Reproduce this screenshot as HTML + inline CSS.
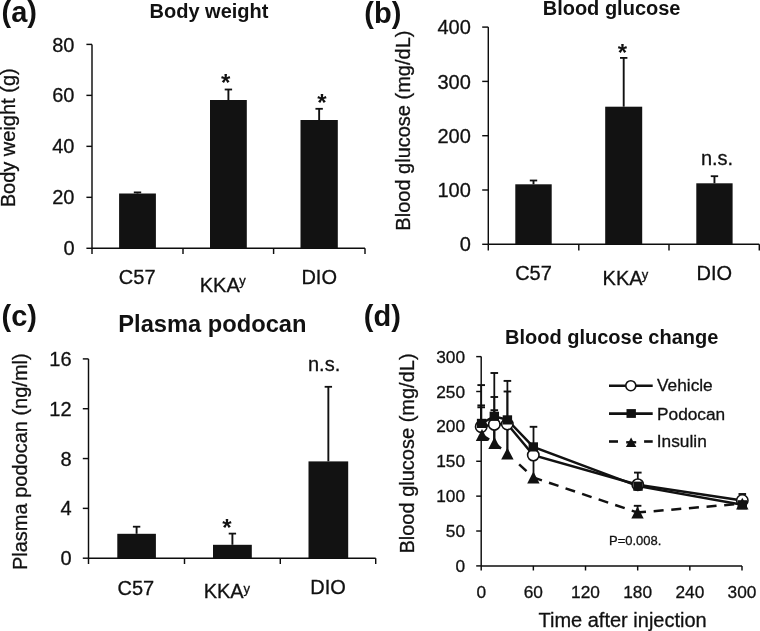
<!DOCTYPE html>
<html><head><meta charset="utf-8"><style>
html,body{margin:0;padding:0;background:#fff;}
svg{display:block;filter:grayscale(1);}
text{font-family:"Liberation Sans", sans-serif;}
text.r{stroke:#111;stroke-width:0.3px;}
</style></head><body>
<svg width="760" height="631" viewBox="0 0 760 631">
<rect width="760" height="631" fill="#fff"/>
<text x="1.5" y="22.4" font-size="29" text-anchor="start" font-weight="bold" fill="#111" >(a)</text>
<text x="209" y="17.9" font-size="20" text-anchor="middle" font-weight="bold" fill="#111" >Body weight</text>
<line x1="92" y1="44.4" x2="92" y2="248.3" stroke="#0d0d0d" stroke-width="1.45" />
<line x1="86.4" y1="44.4" x2="92" y2="44.4" stroke="#0d0d0d" stroke-width="1.45" />
<text x="74.5" y="51.5" font-size="20" text-anchor="end" class="r" fill="#111" >80</text>
<line x1="86.4" y1="95.375" x2="92" y2="95.375" stroke="#0d0d0d" stroke-width="1.45" />
<text x="74.5" y="102.475" font-size="20" text-anchor="end" class="r" fill="#111" >60</text>
<line x1="86.4" y1="146.35" x2="92" y2="146.35" stroke="#0d0d0d" stroke-width="1.45" />
<text x="74.5" y="153.45" font-size="20" text-anchor="end" class="r" fill="#111" >40</text>
<line x1="86.4" y1="197.32500000000002" x2="92" y2="197.32500000000002" stroke="#0d0d0d" stroke-width="1.45" />
<text x="74.5" y="204.425" font-size="20" text-anchor="end" class="r" fill="#111" >20</text>
<line x1="86.4" y1="248.3" x2="92" y2="248.3" stroke="#0d0d0d" stroke-width="1.45" />
<text x="74.5" y="255.4" font-size="20" text-anchor="end" class="r" fill="#111" >0</text>
<line x1="92" y1="248.3" x2="365" y2="248.3" stroke="#0d0d0d" stroke-width="1.45" />
<line x1="92" y1="248.3" x2="92" y2="254" stroke="#0d0d0d" stroke-width="1.45" />
<line x1="183" y1="248.3" x2="183" y2="254" stroke="#0d0d0d" stroke-width="1.45" />
<line x1="273.6" y1="248.3" x2="273.6" y2="254" stroke="#0d0d0d" stroke-width="1.45" />
<line x1="365" y1="248.3" x2="365" y2="254" stroke="#0d0d0d" stroke-width="1.45" />
<line x1="137.5" y1="192.4" x2="137.5" y2="193.5" stroke="#111" stroke-width="1.9" />
<line x1="133.8" y1="192.4" x2="141.2" y2="192.4" stroke="#111" stroke-width="1.8" />
<rect x="119.1" y="193.5" width="36.80" height="54.80" fill="#121212"/>
<line x1="228.4" y1="89.5" x2="228.4" y2="100" stroke="#111" stroke-width="1.9" />
<line x1="224.70000000000002" y1="89.5" x2="232.1" y2="89.5" stroke="#111" stroke-width="1.8" />
<rect x="210" y="100" width="36.80" height="148.30" fill="#121212"/>
<line x1="319.15" y1="108.8" x2="319.15" y2="120" stroke="#111" stroke-width="1.9" />
<line x1="315.45" y1="108.8" x2="322.84999999999997" y2="108.8" stroke="#111" stroke-width="1.8" />
<rect x="300.5" y="120" width="37.30" height="128.30" fill="#121212"/>
<text x="225.6" y="90.8" font-size="24" text-anchor="middle" font-weight="bold" fill="#111" >*</text>
<text x="321.9" y="111.1" font-size="24" text-anchor="middle" font-weight="bold" fill="#111" >*</text>
<text x="137.2" y="283.5" font-size="20" text-anchor="middle" class="r" fill="#111" >C57</text>
<text x="219.8" y="291.5" font-size="20" text-anchor="middle" class="r" fill="#111" >KKA</text>
<text x="239.3" y="285.3" font-size="13" text-anchor="start" class="r" fill="#111" >y</text>
<text x="319.2" y="284.3" font-size="20" text-anchor="middle" class="r" fill="#111" >DIO</text>
<text class="r" x="0" y="0" font-size="20" text-anchor="middle" fill="#111" transform="translate(15.3,137.8) rotate(-90)">Body weight (g)</text>
<text x="364.3" y="22.8" font-size="29" text-anchor="start" font-weight="bold" fill="#111" >(b)</text>
<text x="611.6" y="14.7" font-size="20" text-anchor="middle" font-weight="bold" fill="#111" >Blood glucose</text>
<line x1="488.3" y1="27.1" x2="488.3" y2="244.3" stroke="#0d0d0d" stroke-width="1.45" />
<line x1="482.2" y1="27.1" x2="488.3" y2="27.1" stroke="#0d0d0d" stroke-width="1.45" />
<text x="470.8" y="34.2" font-size="20" text-anchor="end" class="r" fill="#111" >400</text>
<line x1="482.2" y1="81.4" x2="488.3" y2="81.4" stroke="#0d0d0d" stroke-width="1.45" />
<text x="470.8" y="88.5" font-size="20" text-anchor="end" class="r" fill="#111" >300</text>
<line x1="482.2" y1="135.70000000000002" x2="488.3" y2="135.70000000000002" stroke="#0d0d0d" stroke-width="1.45" />
<text x="470.8" y="142.8" font-size="20" text-anchor="end" class="r" fill="#111" >200</text>
<line x1="482.2" y1="190.0" x2="488.3" y2="190.0" stroke="#0d0d0d" stroke-width="1.45" />
<text x="470.8" y="197.1" font-size="20" text-anchor="end" class="r" fill="#111" >100</text>
<line x1="482.2" y1="244.3" x2="488.3" y2="244.3" stroke="#0d0d0d" stroke-width="1.45" />
<text x="470.8" y="251.4" font-size="20" text-anchor="end" class="r" fill="#111" >0</text>
<line x1="488.3" y1="244.3" x2="759.3" y2="244.3" stroke="#0d0d0d" stroke-width="1.45" />
<line x1="488.3" y1="244.3" x2="488.3" y2="250.5" stroke="#0d0d0d" stroke-width="1.45" />
<line x1="578.8" y1="244.3" x2="578.8" y2="250.5" stroke="#0d0d0d" stroke-width="1.45" />
<line x1="669" y1="244.3" x2="669" y2="250.5" stroke="#0d0d0d" stroke-width="1.45" />
<line x1="759.3" y1="244.3" x2="759.3" y2="250.5" stroke="#0d0d0d" stroke-width="1.45" />
<line x1="533.5" y1="180.5" x2="533.5" y2="184.3" stroke="#111" stroke-width="1.9" />
<line x1="529.8" y1="180.5" x2="537.2" y2="180.5" stroke="#111" stroke-width="1.8" />
<rect x="515.3" y="184.3" width="36.40" height="60.00" fill="#121212"/>
<line x1="623.7" y1="57.9" x2="623.7" y2="106.7" stroke="#111" stroke-width="1.9" />
<line x1="620.0" y1="57.9" x2="627.4000000000001" y2="57.9" stroke="#111" stroke-width="1.8" />
<rect x="605.2" y="106.7" width="37.00" height="137.60" fill="#121212"/>
<line x1="714.45" y1="176.2" x2="714.45" y2="183.3" stroke="#111" stroke-width="1.9" />
<line x1="710.75" y1="176.2" x2="718.1500000000001" y2="176.2" stroke="#111" stroke-width="1.8" />
<rect x="696.3" y="183.3" width="36.30" height="61.00" fill="#121212"/>
<text x="622.4" y="60.6" font-size="24" text-anchor="middle" font-weight="bold" fill="#111" >*</text>
<text x="717" y="164.8" font-size="20" text-anchor="middle" class="r" fill="#111" >n.s.</text>
<text x="533.5" y="280.1" font-size="20" text-anchor="middle" class="r" fill="#111" >C57</text>
<text x="622.6" y="285" font-size="20" text-anchor="middle" class="r" fill="#111" >KKA</text>
<text x="641.7" y="278.9" font-size="13" text-anchor="start" class="r" fill="#111" >y</text>
<text x="714.4" y="280.3" font-size="20" text-anchor="middle" class="r" fill="#111" >DIO</text>
<text class="r" x="0" y="0" font-size="20" text-anchor="middle" fill="#111" transform="translate(410.2,130.6) rotate(-90)">Blood glucose (mg/dL)</text>
<text x="1.5" y="326.3" font-size="29" text-anchor="start" font-weight="bold" fill="#111" >(c)</text>
<text x="212.4" y="331.6" font-size="23.7" text-anchor="middle" font-weight="bold" fill="#111" >Plasma podocan</text>
<line x1="88.5" y1="358.9" x2="88.5" y2="558.2" stroke="#0d0d0d" stroke-width="1.45" />
<line x1="82.8" y1="358.9" x2="88.5" y2="358.9" stroke="#0d0d0d" stroke-width="1.45" />
<text x="71.6" y="366.0" font-size="20" text-anchor="end" class="r" fill="#111" >16</text>
<line x1="82.8" y1="408.725" x2="88.5" y2="408.725" stroke="#0d0d0d" stroke-width="1.45" />
<text x="71.6" y="415.82500000000005" font-size="20" text-anchor="end" class="r" fill="#111" >12</text>
<line x1="82.8" y1="458.55" x2="88.5" y2="458.55" stroke="#0d0d0d" stroke-width="1.45" />
<text x="71.6" y="465.65000000000003" font-size="20" text-anchor="end" class="r" fill="#111" >8</text>
<line x1="82.8" y1="508.375" x2="88.5" y2="508.375" stroke="#0d0d0d" stroke-width="1.45" />
<text x="71.6" y="515.475" font-size="20" text-anchor="end" class="r" fill="#111" >4</text>
<line x1="82.8" y1="558.2" x2="88.5" y2="558.2" stroke="#0d0d0d" stroke-width="1.45" />
<text x="71.6" y="565.3000000000001" font-size="20" text-anchor="end" class="r" fill="#111" >0</text>
<line x1="88.5" y1="558.2" x2="375.7" y2="558.2" stroke="#0d0d0d" stroke-width="1.45" />
<line x1="88.5" y1="558.2" x2="88.5" y2="564" stroke="#0d0d0d" stroke-width="1.45" />
<line x1="184.5" y1="558.2" x2="184.5" y2="564" stroke="#0d0d0d" stroke-width="1.45" />
<line x1="280.3" y1="558.2" x2="280.3" y2="564" stroke="#0d0d0d" stroke-width="1.45" />
<line x1="375.7" y1="558.2" x2="375.7" y2="564" stroke="#0d0d0d" stroke-width="1.45" />
<line x1="136.6" y1="526.7" x2="136.6" y2="533.8" stroke="#111" stroke-width="1.9" />
<line x1="132.9" y1="526.7" x2="140.29999999999998" y2="526.7" stroke="#111" stroke-width="1.8" />
<rect x="117.3" y="533.8" width="38.60" height="24.40" fill="#121212"/>
<line x1="232.4" y1="533.6" x2="232.4" y2="544.8" stroke="#111" stroke-width="1.9" />
<line x1="228.70000000000002" y1="533.6" x2="236.1" y2="533.6" stroke="#111" stroke-width="1.8" />
<rect x="213" y="544.8" width="38.80" height="13.40" fill="#121212"/>
<line x1="328.35" y1="386.8" x2="328.35" y2="461.4" stroke="#111" stroke-width="1.9" />
<line x1="324.65000000000003" y1="386.8" x2="332.05" y2="386.8" stroke="#111" stroke-width="1.8" />
<rect x="308.5" y="461.4" width="39.70" height="96.80" fill="#121212"/>
<text x="227" y="536.3" font-size="24" text-anchor="middle" font-weight="bold" fill="#111" >*</text>
<text x="324.1" y="370.6" font-size="20" text-anchor="middle" class="r" fill="#111" >n.s.</text>
<text x="135.9" y="594.5" font-size="20" text-anchor="middle" class="r" fill="#111" >C57</text>
<text x="223.7" y="597.5" font-size="20" text-anchor="middle" class="r" fill="#111" >KKA</text>
<text x="243.4" y="592.6" font-size="13" text-anchor="start" class="r" fill="#111" >y</text>
<text x="328.1" y="593.7" font-size="20" text-anchor="middle" class="r" fill="#111" >DIO</text>
<text class="r" x="0" y="0" font-size="20" text-anchor="middle" fill="#111" transform="translate(27,461.7) rotate(-90)">Plasma podocan (ng/ml)</text>
<text x="363.8" y="326.3" font-size="29" text-anchor="start" font-weight="bold" fill="#111" >(d)</text>
<text x="611.7" y="343.9" font-size="20" text-anchor="middle" font-weight="bold" fill="#111" >Blood glucose change</text>
<line x1="481.2" y1="356.62" x2="481.2" y2="565.9" stroke="#0d0d0d" stroke-width="1.45" />
<line x1="476.2" y1="356.62" x2="481.2" y2="356.62" stroke="#0d0d0d" stroke-width="1.45" />
<text x="465" y="362.72" font-size="17.3" text-anchor="end" class="r" fill="#111" >300</text>
<line x1="476.2" y1="391.5" x2="481.2" y2="391.5" stroke="#0d0d0d" stroke-width="1.45" />
<text x="465" y="397.6" font-size="17.3" text-anchor="end" class="r" fill="#111" >250</text>
<line x1="476.2" y1="426.38" x2="481.2" y2="426.38" stroke="#0d0d0d" stroke-width="1.45" />
<text x="465" y="432.48" font-size="17.3" text-anchor="end" class="r" fill="#111" >200</text>
<line x1="476.2" y1="461.26" x2="481.2" y2="461.26" stroke="#0d0d0d" stroke-width="1.45" />
<text x="465" y="467.36" font-size="17.3" text-anchor="end" class="r" fill="#111" >150</text>
<line x1="476.2" y1="496.14" x2="481.2" y2="496.14" stroke="#0d0d0d" stroke-width="1.45" />
<text x="465" y="502.24" font-size="17.3" text-anchor="end" class="r" fill="#111" >100</text>
<line x1="476.2" y1="531.02" x2="481.2" y2="531.02" stroke="#0d0d0d" stroke-width="1.45" />
<text x="465" y="537.12" font-size="17.3" text-anchor="end" class="r" fill="#111" >50</text>
<line x1="476.2" y1="565.9" x2="481.2" y2="565.9" stroke="#0d0d0d" stroke-width="1.45" />
<text x="465" y="572.0" font-size="17.3" text-anchor="end" class="r" fill="#111" >0</text>
<line x1="481.2" y1="565.9" x2="742.0" y2="565.9" stroke="#0d0d0d" stroke-width="1.45" />
<line x1="481.2" y1="565.9" x2="481.2" y2="570.5" stroke="#0d0d0d" stroke-width="1.45" />
<text x="481.2" y="597.5" font-size="17.3" text-anchor="middle" class="r" fill="#111" >0</text>
<line x1="533.36" y1="565.9" x2="533.36" y2="570.5" stroke="#0d0d0d" stroke-width="1.45" />
<text x="533.36" y="597.5" font-size="17.3" text-anchor="middle" class="r" fill="#111" >60</text>
<line x1="585.52" y1="565.9" x2="585.52" y2="570.5" stroke="#0d0d0d" stroke-width="1.45" />
<text x="585.52" y="597.5" font-size="17.3" text-anchor="middle" class="r" fill="#111" >120</text>
<line x1="637.68" y1="565.9" x2="637.68" y2="570.5" stroke="#0d0d0d" stroke-width="1.45" />
<text x="637.68" y="597.5" font-size="17.3" text-anchor="middle" class="r" fill="#111" >180</text>
<line x1="689.8399999999999" y1="565.9" x2="689.8399999999999" y2="570.5" stroke="#0d0d0d" stroke-width="1.45" />
<text x="689.8399999999999" y="597.5" font-size="17.3" text-anchor="middle" class="r" fill="#111" >240</text>
<line x1="742.0" y1="565.9" x2="742.0" y2="570.5" stroke="#0d0d0d" stroke-width="1.45" />
<text x="742.0" y="597.5" font-size="17.3" text-anchor="middle" class="r" fill="#111" >300</text>
<text x="622.6" y="626.8" font-size="20" text-anchor="middle" class="r" fill="#111" >Time after injection</text>
<text class="r" x="0" y="0" font-size="20" text-anchor="middle" fill="#111" transform="translate(414,453.5) rotate(-90)">Blood glucose (mg/dL)</text>
<text x="609" y="544.7" font-size="13" text-anchor="start" class="r" fill="#111" >P=0.008.</text>
<line x1="481.2" y1="385.1" x2="481.2" y2="436" stroke="#111" stroke-width="1.8" />
<line x1="477.4" y1="385.1" x2="485.0" y2="385.1" stroke="#111" stroke-width="1.9" />
<line x1="481.2" y1="405.4" x2="481.2" y2="436" stroke="#111" stroke-width="1.8" />
<line x1="477.4" y1="405.4" x2="485.0" y2="405.4" stroke="#111" stroke-width="1.9" />
<line x1="481.2" y1="407.3" x2="481.2" y2="436" stroke="#111" stroke-width="1.8" />
<line x1="477.4" y1="407.3" x2="485.0" y2="407.3" stroke="#111" stroke-width="1.9" />
<line x1="494.3" y1="373" x2="494.3" y2="443" stroke="#111" stroke-width="1.8" />
<line x1="490.5" y1="373" x2="498.1" y2="373" stroke="#111" stroke-width="1.9" />
<line x1="494.3" y1="397" x2="494.3" y2="443" stroke="#111" stroke-width="1.8" />
<line x1="490.5" y1="397" x2="498.1" y2="397" stroke="#111" stroke-width="1.9" />
<line x1="494.3" y1="410.2" x2="494.3" y2="443" stroke="#111" stroke-width="1.8" />
<line x1="490.5" y1="410.2" x2="498.1" y2="410.2" stroke="#111" stroke-width="1.9" />
<line x1="507.4" y1="380.9" x2="507.4" y2="454" stroke="#111" stroke-width="1.8" />
<line x1="503.59999999999997" y1="380.9" x2="511.2" y2="380.9" stroke="#111" stroke-width="1.9" />
<line x1="507.4" y1="391.5" x2="507.4" y2="454" stroke="#111" stroke-width="1.8" />
<line x1="503.59999999999997" y1="391.5" x2="511.2" y2="391.5" stroke="#111" stroke-width="1.9" />
<line x1="533.5" y1="426.8" x2="533.5" y2="477" stroke="#111" stroke-width="1.8" />
<line x1="529.7" y1="426.8" x2="537.3" y2="426.8" stroke="#111" stroke-width="1.9" />
<line x1="637.8" y1="472.6" x2="637.8" y2="484" stroke="#111" stroke-width="1.8" />
<line x1="634.0" y1="472.6" x2="641.5999999999999" y2="472.6" stroke="#111" stroke-width="1.9" />
<line x1="637.6" y1="505.8" x2="637.6" y2="512" stroke="#111" stroke-width="1.8" />
<line x1="633.8000000000001" y1="505.8" x2="641.4" y2="505.8" stroke="#111" stroke-width="1.9" />
<line x1="742.3" y1="494" x2="742.3" y2="503" stroke="#111" stroke-width="1.8" />
<line x1="738.5" y1="494" x2="746.0999999999999" y2="494" stroke="#111" stroke-width="1.9" />
<polyline points="481.2,426.7 494.3,424.4 507.3,424 533.3,455.1 637.8,484.7 742.3,500.5" fill="none" stroke="#111" stroke-width="2.4"/>
<polyline points="481.6,423.4 494.3,416.3 507.4,419.9 533.3,446.9 638,486.2 742.3,504.8" fill="none" stroke="#111" stroke-width="2.4"/>
<line x1="481.16" y1="434.46" x2="489.16" y2="439.58" stroke="#111" stroke-width="2.5"/>
<line x1="493.73" y1="442.36" x2="501.04" y2="448.43" stroke="#111" stroke-width="2.5"/>
<line x1="506.89" y1="453.28" x2="508.17" y2="454.34" stroke="#111" stroke-width="2.5"/>
<line x1="519.13" y1="464.44" x2="526.50" y2="471.19" stroke="#111" stroke-width="2.5"/>
<line x1="532.11" y1="476.32" x2="534.14" y2="478.18" stroke="#111" stroke-width="2.5"/>
<line x1="532.45" y1="477.18" x2="541.93" y2="480.37" stroke="#111" stroke-width="2.5"/>
<line x1="549.00" y1="482.75" x2="558.48" y2="485.93" stroke="#111" stroke-width="2.5"/>
<line x1="565.55" y1="488.31" x2="575.03" y2="491.50" stroke="#111" stroke-width="2.5"/>
<line x1="582.10" y1="493.87" x2="591.58" y2="497.06" stroke="#111" stroke-width="2.5"/>
<line x1="598.65" y1="499.44" x2="608.13" y2="502.63" stroke="#111" stroke-width="2.5"/>
<line x1="615.20" y1="505.00" x2="624.68" y2="508.19" stroke="#111" stroke-width="2.5"/>
<line x1="631.75" y1="510.57" x2="638.45" y2="512.82" stroke="#111" stroke-width="2.5"/>
<line x1="636.50" y1="512.58" x2="645.97" y2="511.78" stroke="#111" stroke-width="2.5"/>
<line x1="653.64" y1="511.13" x2="663.61" y2="510.28" stroke="#111" stroke-width="2.5"/>
<line x1="671.28" y1="509.63" x2="681.24" y2="508.79" stroke="#111" stroke-width="2.5"/>
<line x1="688.91" y1="508.13" x2="698.88" y2="507.29" stroke="#111" stroke-width="2.5"/>
<line x1="706.55" y1="506.64" x2="716.52" y2="505.79" stroke="#111" stroke-width="2.5"/>
<line x1="724.19" y1="505.14" x2="734.15" y2="504.29" stroke="#111" stroke-width="2.5"/>
<line x1="741.82" y1="503.64" x2="743.30" y2="503.52" stroke="#111" stroke-width="2.5"/>
<circle cx="481.2" cy="426.7" r="5.7" fill="#fff" stroke="#111" stroke-width="1.6"/>
<circle cx="494.3" cy="424.4" r="5.7" fill="#fff" stroke="#111" stroke-width="1.6"/>
<circle cx="507.3" cy="424" r="5.7" fill="#fff" stroke="#111" stroke-width="1.6"/>
<circle cx="533.3" cy="455.1" r="5.7" fill="#fff" stroke="#111" stroke-width="1.6"/>
<circle cx="637.8" cy="484.7" r="5.7" fill="#fff" stroke="#111" stroke-width="1.6"/>
<circle cx="742.3" cy="500.5" r="5.7" fill="#fff" stroke="#111" stroke-width="1.6"/>
<rect x="476.90000000000003" y="418.79999999999995" width="9.4" height="9.2" fill="#111"/>
<rect x="489.6" y="411.7" width="9.4" height="9.2" fill="#111"/>
<rect x="502.7" y="415.29999999999995" width="9.4" height="9.2" fill="#111"/>
<rect x="528.5999999999999" y="442.29999999999995" width="9.4" height="9.2" fill="#111"/>
<rect x="633.3" y="481.59999999999997" width="9.4" height="9.2" fill="#111"/>
<rect x="737.5999999999999" y="500.2" width="9.4" height="9.2" fill="#111"/>
<polygon points="475.8,440.9 488.2,440.9 482,429.1" fill="#111"/>
<polygon points="488.3,448.9 500.7,448.9 494.5,437.1" fill="#111"/>
<polygon points="501.2,459.59999999999997 513.6,459.59999999999997 507.4,447.8" fill="#111"/>
<polygon points="527.1999999999999,483.4 539.6,483.4 533.4,471.6" fill="#111"/>
<polygon points="631.3,518.4 643.7,518.4 637.5,506.6" fill="#111"/>
<polygon points="736.0999999999999,509.5 748.5,509.5 742.3,497.70000000000005" fill="#111"/>
<line x1="609" y1="385.7" x2="652.7" y2="385.7" stroke="#111" stroke-width="2.6" />
<circle cx="630.8" cy="385.7" r="5" fill="#fff" stroke="#111" stroke-width="1.6"/>
<text x="657" y="391.4" font-size="17.3" text-anchor="start" class="r" fill="#111" >Vehicle</text>
<line x1="609" y1="413.6" x2="652.7" y2="413.6" stroke="#111" stroke-width="2.6" />
<rect x="626.5" y="409.1" width="9.4" height="8.8" fill="#111"/>
<text x="657" y="419.6" font-size="17.3" text-anchor="start" class="r" fill="#111" >Podocan</text>
<line x1="609" y1="441.5" x2="618" y2="441.5" stroke="#111" stroke-width="2.6" />
<line x1="644.1" y1="441.5" x2="652.7" y2="441.5" stroke="#111" stroke-width="2.6" />
<line x1="626.2" y1="442.3" x2="636.2" y2="442.3" stroke="#111" stroke-width="2.4" />
<polygon points="625.9,447.0 636.3000000000001,447.0 631.1,437.4" fill="#111"/>
<text x="656.8" y="447" font-size="17.3" text-anchor="start" class="r" fill="#111" >Insulin</text>
</svg>
</body></html>
